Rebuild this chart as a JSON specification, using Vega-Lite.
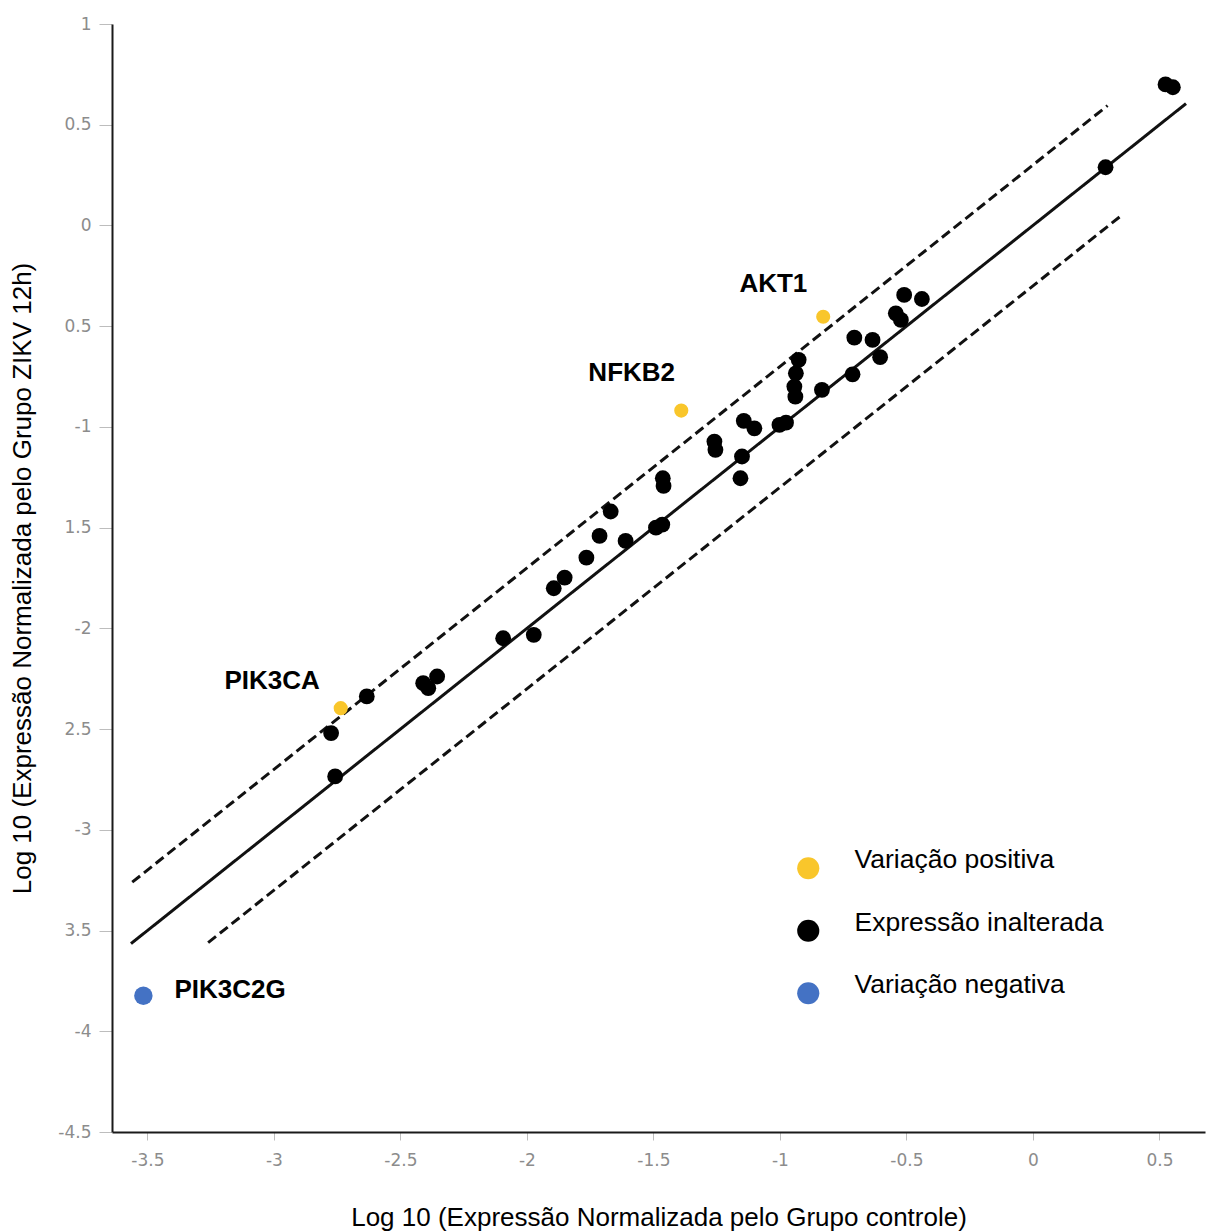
{
  "$schema": "https://vega.github.io/schema/vega-lite/v6.json",
  "width": 1093,
  "height": 1108,
  "autosize": {"type": "none"},
  "padding": {"left": 112, "top": 24, "right": 14, "bottom": 100},
  "background": "white",
  "config": {
    "view": {"stroke": null},
    "font": "Liberation Sans",
    "axis": {
      "grid": false,
      "domainColor": "#1a1a1a",
      "domainWidth": 2,
      "tickColor": "#bdbdbd",
      "tickWidth": 1,
      "labelFont": "DejaVu Sans",
      "labelFontSize": 17,
      "labelColor": "#8c8c8c",
      "titleFont": "Liberation Sans",
      "titleFontSize": 26,
      "titleFontWeight": "normal",
      "titleColor": "#000000"
    },
    "legend": {
      "orient": "none",
      "legendX": 683,
      "legendY": 831,
      "padding": 0,
      "symbolType": "circle",
      "symbolSize": 490,
      "symbolStrokeWidth": 0,
      "symbolOpacity": 1,
      "labelFont": "Liberation Sans",
      "labelFontSize": 26.5,
      "labelColor": "#000000",
      "labelOffset": 33,
      "labelLimit": 400,
      "labelBaseline": "alphabetic",
      "rowPadding": 29.5
    }
  },
  "datasets": {
    "linhas": [
      {"linha": "identidade", "tipo": "solida", "x": -3.565, "y": -3.565},
      {"linha": "identidade", "tipo": "solida", "x": 0.605, "y": 0.605},
      {"linha": "superior", "tipo": "tracejada", "x": -3.56, "y": -3.26},
      {"linha": "superior", "tipo": "tracejada", "x": 0.295, "y": 0.595},
      {"linha": "inferior", "tipo": "tracejada", "x": -3.26, "y": -3.56},
      {"linha": "inferior", "tipo": "tracejada", "x": 0.345, "y": 0.045}
    ],
    "genes": [
      {"gene": "", "categoria": "Expressão inalterada", "x": 0.524, "y": 0.700},
      {"gene": "", "categoria": "Expressão inalterada", "x": 0.553, "y": 0.686},
      {"gene": "", "categoria": "Expressão inalterada", "x": 0.287, "y": 0.289},
      {"gene": "", "categoria": "Expressão inalterada", "x": -0.509, "y": -0.345},
      {"gene": "", "categoria": "Expressão inalterada", "x": -0.439, "y": -0.365},
      {"gene": "", "categoria": "Expressão inalterada", "x": -0.542, "y": -0.436},
      {"gene": "", "categoria": "Expressão inalterada", "x": -0.522, "y": -0.469},
      {"gene": "", "categoria": "Expressão inalterada", "x": -0.706, "y": -0.557},
      {"gene": "", "categoria": "Expressão inalterada", "x": -0.634, "y": -0.568},
      {"gene": "", "categoria": "Expressão inalterada", "x": -0.604, "y": -0.654},
      {"gene": "", "categoria": "Expressão inalterada", "x": -0.713, "y": -0.739},
      {"gene": "", "categoria": "Expressão inalterada", "x": -0.834, "y": -0.816},
      {"gene": "", "categoria": "Expressão inalterada", "x": -0.926, "y": -0.667},
      {"gene": "", "categoria": "Expressão inalterada", "x": -0.937, "y": -0.734},
      {"gene": "", "categoria": "Expressão inalterada", "x": -0.943, "y": -0.800},
      {"gene": "", "categoria": "Expressão inalterada", "x": -0.939, "y": -0.850},
      {"gene": "", "categoria": "Expressão inalterada", "x": -1.143, "y": -0.970},
      {"gene": "", "categoria": "Expressão inalterada", "x": -1.101, "y": -1.007},
      {"gene": "", "categoria": "Expressão inalterada", "x": -1.002, "y": -0.990},
      {"gene": "", "categoria": "Expressão inalterada", "x": -0.976, "y": -0.979},
      {"gene": "", "categoria": "Expressão inalterada", "x": -1.259, "y": -1.073},
      {"gene": "", "categoria": "Expressão inalterada", "x": -1.255, "y": -1.114},
      {"gene": "", "categoria": "Expressão inalterada", "x": -1.150, "y": -1.147},
      {"gene": "", "categoria": "Expressão inalterada", "x": -1.156, "y": -1.255},
      {"gene": "", "categoria": "Expressão inalterada", "x": -1.463, "y": -1.255},
      {"gene": "", "categoria": "Expressão inalterada", "x": -1.460, "y": -1.293},
      {"gene": "", "categoria": "Expressão inalterada", "x": -1.490, "y": -1.500},
      {"gene": "", "categoria": "Expressão inalterada", "x": -1.465, "y": -1.485},
      {"gene": "", "categoria": "Expressão inalterada", "x": -1.669, "y": -1.420},
      {"gene": "", "categoria": "Expressão inalterada", "x": -1.713, "y": -1.541},
      {"gene": "", "categoria": "Expressão inalterada", "x": -1.610, "y": -1.566},
      {"gene": "", "categoria": "Expressão inalterada", "x": -1.765, "y": -1.649},
      {"gene": "", "categoria": "Expressão inalterada", "x": -1.851, "y": -1.748},
      {"gene": "", "categoria": "Expressão inalterada", "x": -1.894, "y": -1.801},
      {"gene": "", "categoria": "Expressão inalterada", "x": -2.094, "y": -2.049},
      {"gene": "", "categoria": "Expressão inalterada", "x": -1.973, "y": -2.032},
      {"gene": "", "categoria": "Expressão inalterada", "x": -2.410, "y": -2.272},
      {"gene": "", "categoria": "Expressão inalterada", "x": -2.390, "y": -2.297},
      {"gene": "", "categoria": "Expressão inalterada", "x": -2.355, "y": -2.239},
      {"gene": "", "categoria": "Expressão inalterada", "x": -2.633, "y": -2.338},
      {"gene": "", "categoria": "Expressão inalterada", "x": -2.774, "y": -2.520},
      {"gene": "", "categoria": "Expressão inalterada", "x": -2.758, "y": -2.735},
      {"gene": "AKT1", "categoria": "Variação positiva", "x": -0.829, "y": -0.453},
      {"gene": "NFKB2", "categoria": "Variação positiva", "x": -1.390, "y": -0.919},
      {"gene": "PIK3CA", "categoria": "Variação positiva", "x": -2.736, "y": -2.396},
      {"gene": "PIK3C2G", "categoria": "Variação negativa", "x": -3.516, "y": -3.824}
    ],
    "rotulos": [
      {"gene": "AKT1", "x": -1.026, "y": -0.290},
      {"gene": "NFKB2", "x": -1.586, "y": -0.732},
      {"gene": "PIK3CA", "x": -3.007, "y": -2.261},
      {"gene": "PIK3C2G", "x": -3.173, "y": -3.794}
    ]
  },
  "encoding": {
    "x": {
      "field": "x",
      "type": "quantitative",
      "scale": {"domain": [-3.64, 0.68], "nice": false, "zero": false},
      "axis": {
        "title": "Log 10 (Expressão Normalizada pelo Grupo controle)",
        "values": [-3.5, -3, -2.5, -2, -1.5, -1, -0.5, 0, 0.5],
        "labelExpr": "'' + datum.value",
        "tickSize": 8,
        "labelPadding": 12,
        "titlePadding": 36
      }
    },
    "y": {
      "field": "y",
      "type": "quantitative",
      "scale": {"domain": [-4.5, 1], "nice": false, "zero": false},
      "axis": {
        "title": "Log 10 (Expressão Normalizada pelo Grupo ZIKV 12h)",
        "values": [1, 0.5, 0, -0.5, -1, -1.5, -2, -2.5, -3, -3.5, -4, -4.5],
        "labelExpr": "(datum.value == -0.5 || datum.value == -1.5 || datum.value == -2.5 || datum.value == -3.5) ? ('' + abs(datum.value)) : ('' + datum.value)",
        "tickSize": 13,
        "labelPadding": 8,
        "titlePadding": 22
      }
    },
    "color": {
      "field": "categoria",
      "type": "nominal",
      "scale": {
        "domain": ["Variação positiva", "Expressão inalterada", "Variação negativa"],
        "range": ["#F9C62B", "#000000", "#4472C4"]
      },
      "legend": {"title": null}
    }
  },
  "layer": [
    {
      "data": {"name": "linhas"},
      "mark": {"type": "line", "color": "#111111", "strokeWidth": 3},
      "encoding": {
        "color": {"value": "#111111"},
        "detail": {"field": "linha", "type": "nominal"},
        "strokeDash": {
          "field": "tipo",
          "type": "nominal",
          "scale": {"domain": ["solida", "tracejada"], "range": [[1, 0], [10, 5]]},
          "legend": null
        }
      }
    },
    {
      "data": {"name": "genes"},
      "transform": [{"filter": "datum.categoria == 'Expressão inalterada'"}],
      "mark": {"type": "circle", "opacity": 1, "size": 250}
    },
    {
      "data": {"name": "genes"},
      "transform": [{"filter": "datum.categoria == 'Variação positiva'"}],
      "mark": {"type": "circle", "opacity": 1, "size": 200}
    },
    {
      "data": {"name": "genes"},
      "transform": [{"filter": "datum.categoria == 'Variação negativa'"}],
      "mark": {"type": "circle", "opacity": 1, "size": 340}
    },
    {
      "data": {"name": "rotulos"},
      "mark": {
        "type": "text",
        "font": "Liberation Sans",
        "fontWeight": "bold",
        "fontSize": 26,
        "align": "center",
        "baseline": "middle"
      },
      "encoding": {
        "color": {"value": "#000000"},
        "text": {"field": "gene", "type": "nominal"}
      }
    }
  ]
}
